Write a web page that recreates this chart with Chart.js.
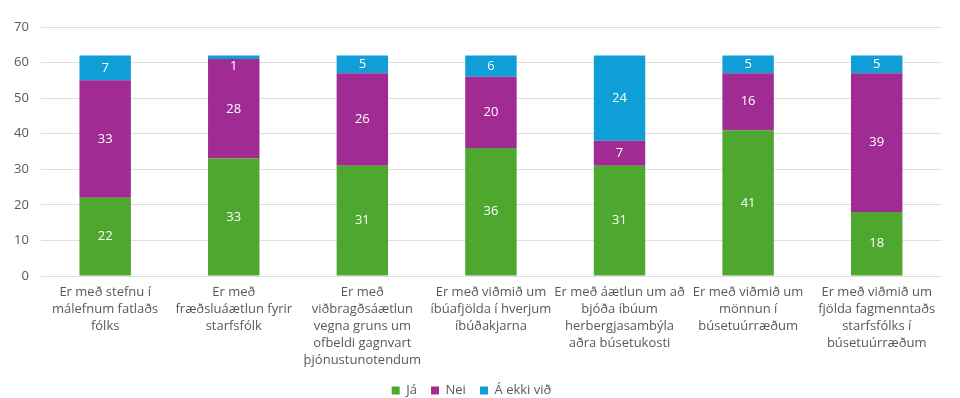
<!DOCTYPE html>
<html>
<head>
<meta charset="utf-8">
<script src="https://cdn.jsdelivr.net/npm/chart.js@4"></script>
<style>
  html, body { margin: 0; padding: 0; background: #fff; }
  #wrap { width: 960px; height: 398px; }
</style>
</head>
<body>
<div id="wrap"><canvas id="c"></canvas></div>
<script>
// categories (multi-line labels)
const categories = [
  ["Er með stefnu í", "málefnum fatlaðs", "fólks"],
  ["Er með", "fræðsluáætlun fyrir", "starfsfólk"],
  ["Er með", "viðbragðsáætlun", "vegna gruns um", "ofbeldi gagnvart", "þjónustunotendum"],
  ["Er með viðmið um", "íbúafjölda í hverjum", "íbúðakjarna"],
  ["Er með áætlun um að", "bjóða íbúum", "herbergjasambýla", "aðra búsetukosti"],
  ["Er með viðmið um", "mönnun í", "búsetuúrræðum"],
  ["Er með viðmið um", "fjölda fagmenntaðs", "starfsfólks í", "búsetuúrræðum"]
];
const ja = [22, 33, 31, 36, 31, 41, 18];
const nei = [33, 28, 26, 20, 7, 16, 39];
const aEkkiVid = [7, 1, 5, 6, 24, 5, 5];
const seriesNames = ["Já", "Nei", "Á ekki við"];
const yMax = 70;
const yStep = 10;

const FONT = "'Open Sans', 'Noto Sans', sans-serif";

// white value labels centred in each segment
const valueLabels = {
  id: "valueLabels",
  afterDatasetsDraw(chart) {
    const ctx = chart.ctx;
    ctx.save();
    ctx.fillStyle = "#ffffff";
    ctx.font = "13px " + FONT;
    ctx.textAlign = "center";
    ctx.textBaseline = "middle";
    chart.data.datasets.forEach((ds, i) => {
      const meta = chart.getDatasetMeta(i);
      meta.data.forEach((bar, j) => {
        const v = ds.data[j];
        if (!v) return;
        let y = (bar.y + bar.base) / 2;
        if (bar.base - bar.y < 16) y = Math.max(y, bar.y + 11);
        ctx.fillText(String(v), bar.x, y);
      });
    });
    ctx.restore();
  }
};

const defaultLabels = Chart.defaults.plugins.legend.labels.generateLabels;

new Chart(document.getElementById("c"), {
  type: "bar",
  data: {
    labels: categories,
    datasets: [
      { label: seriesNames[0], data: ja, backgroundColor: "#4ea72e" },
      { label: seriesNames[1], data: nei, backgroundColor: "#a02b93" },
      { label: seriesNames[2], data: aEkkiVid, backgroundColor: "#0f9ed5" }
    ]
  },
  options: {
    responsive: true,
    maintainAspectRatio: false,
    animation: false,
    layout: { padding: { top: 27, right: 19, left: 2, bottom: -9 } },
    datasets: { bar: { categoryPercentage: 1, barPercentage: 0.4 } },
    scales: {
      x: {
        stacked: true,
        grid: { display: false },
        border: { display: false },
        afterFit(scale) { scale.height = 104; },
        ticks: {
          color: "#595959",
          font: { family: FONT, size: 13, lineHeight: "17px" },
          maxRotation: 0,
          autoSkip: false,
          padding: 0
        }
      },
      y: {
        stacked: true,
        min: 0,
        max: yMax,
        ticks: {
          stepSize: yStep,
          color: "#595959",
          font: { family: FONT, size: 13 },
          padding: 12
        },
        grid: { color: "#dedede", drawTicks: false },
        border: { display: false }
      }
    },
    plugins: {
      legend: {
        position: "bottom",
        labels: {
          color: "#595959",
          font: { family: FONT, size: 13 },
          boxWidth: 8,
          boxHeight: 8,
          padding: 4,
          generateLabels(chart) {
            const items = defaultLabels(chart);
            items.forEach((it, i) => {
              if (i < items.length - 1) it.text = it.text + "   ";
            });
            return items;
          }
        }
      },
      tooltip: { enabled: false }
    }
  },
  plugins: [valueLabels]
});
</script>
</body>
</html>
